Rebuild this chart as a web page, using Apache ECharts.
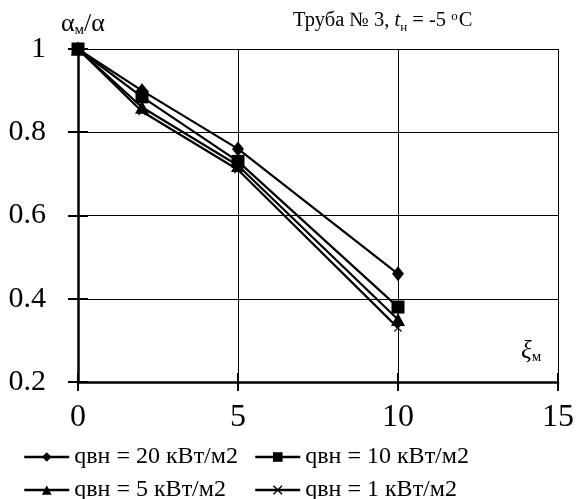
<!DOCTYPE html>
<html><head><meta charset="utf-8">
<script src="https://cdn.jsdelivr.net/npm/echarts@6/dist/echarts.min.js"></script>
<style>html,body{margin:0;padding:0;background:#fff}#c{width:577px;height:499px}</style>
</head><body><div id="c"></div>
<script>
const seriesNames = ['qвн = 20 кВт/м2', 'qвн = 10 кВт/м2', 'qвн = 5 кВт/м2', 'qвн = 1 кВт/м2'];
const xValues = [0, 2, 5, 10];
const q20 = [1, 0.90, 0.76, 0.46];
const q10 = [1, 0.885, 0.73, 0.38];
const q5 = [1, 0.86, 0.72, 0.35];
const q1 = [1, 0.85, 0.71, 0.33];
const xMin = 0, xMax = 15, xStep = 5;
const yMin = 0.2, yMax = 1, yStep = 0.2;

const FONT = 'Liberation Serif';
const crossPath = 'path://M0,1L1,0L5,4L9,0L10,1L6,5L10,9L9,10L5,6L1,10L0,9L4,5Z';
const symbols = ['diamond', 'rect', 'triangle', crossPath];
const symbolSizes = [[12, 15], 13, [14, 13], 8];
const valuesList = [q20, q10, q5, q1];

const chart = echarts.init(document.getElementById('c'), null, {renderer: 'canvas'});

const series = seriesNames.map((name, i) => ({
  name: name,
  type: 'line',
  xAxisIndex: 0, yAxisIndex: 0,
  data: xValues.map((x, j) => [x, valuesList[i][j]]),
  symbol: symbols[i],
  symbolSize: symbolSizes[i],
  showAllSymbol: true,
  lineStyle: {color: '#000', width: 2.2},
  itemStyle: {color: '#000', borderColor: '#000', borderWidth: 0},
  emphasis: {disabled: true},
  animation: false,
  z: 3 + (3 - i)
}));

const legendPos = [[23, 445], [254, 445], [23, 478], [254, 478]];
const legends = seriesNames.map((name, i) => ({
  data: [name],
  left: legendPos[i][0], top: legendPos[i][1],
  padding: 0,
  itemWidth: 45, itemHeight: 12,
  itemGap: 0,
  selectedMode: false,
  lineStyle: {width: 2.5, color: '#000'},
  textStyle: {fontFamily: FONT, fontSize: 24, color: '#000'}
}));

const option = {
  backgroundColor: '#fff',
  animation: false,
  grid: {left: 78, right: 16, top: 49, bottom: 117, containLabel: false},
  legend: legends,
  xAxis: [{
    type: 'value', min: xMin, max: xMax, interval: xStep, position: 'bottom',
    axisLine: {show: true, onZero: false, lineStyle: {color: '#000', width: 2.5}},
    axisTick: {show: true, inside: false, length: 9, lineStyle: {color: '#000', width: 2}},
    axisLabel: {fontFamily: FONT, fontSize: 32, color: '#000', margin: 20},
    splitLine: {show: true, lineStyle: {color: '#000', width: 1}}
  }, {
    type: 'value', min: xMin, max: xMax, interval: xStep, position: 'bottom',
    axisLine: {show: false},
    axisTick: {show: true, inside: true, length: 9, lineStyle: {color: '#000', width: 2}},
    axisLabel: {show: false},
    splitLine: {show: false}
  }],
  yAxis: [{
    type: 'value', min: yMin, max: yMax, interval: yStep, position: 'left',
    axisLine: {show: true, onZero: false, lineStyle: {color: '#000', width: 2.5}},
    axisTick: {show: true, inside: false, length: 10, lineStyle: {color: '#000', width: 2}},
    axisLabel: {fontFamily: FONT, fontSize: 30, color: '#000', margin: 32},
    splitLine: {show: true, lineStyle: {color: '#000', width: 1}},
    name: '{a|α}{s|м}{a|/α}',
    nameLocation: 'end',
    nameGap: 12,
    nameTextStyle: {
      align: 'left', padding: [0, 0, 0, -17],
      rich: {
        a: {fontFamily: FONT, fontSize: 26, color: '#000', lineHeight: 26},
        s: {fontFamily: FONT, fontSize: 15, color: '#000', lineHeight: 15, padding: [13, 0, 0, 0]}
      }
    }
  }, {
    type: 'value', min: yMin, max: yMax, interval: yStep, position: 'left',
    axisLine: {show: false},
    axisTick: {show: true, inside: true, length: 10, lineStyle: {color: '#000', width: 2}},
    axisLabel: {show: false},
    splitLine: {show: false}
  }],
  graphic: [{
    type: 'text', left: 293, top: 8, silent: true,
    style: {
      text: '{a|Труба № 3, }{i|t}{sub|н}{a| = -5 }{sup|о}{a|C}',
      rich: {
        a: {fontFamily: FONT, fontSize: 20.5, fill: '#000', lineHeight: 26},
        i: {fontFamily: FONT, fontSize: 20.5, fontStyle: 'italic', fill: '#000', lineHeight: 26},
        sub: {fontFamily: FONT, fontSize: 13, fill: '#000', lineHeight: 13, padding: [13, 0, 0, 0]},
        sup: {fontFamily: FONT, fontSize: 13, fill: '#000', lineHeight: 13, padding: [0, 1, 8, 0]}
      }
    }
  }, {
    type: 'text', left: 521, top: 337, silent: true,
    style: {
      text: '{x|ξ}{s|м}',
      rich: {
        x: {fontFamily: FONT, fontSize: 25, fontStyle: 'italic', fill: '#000', lineHeight: 26},
        s: {fontFamily: FONT, fontSize: 15, fill: '#000', lineHeight: 15, padding: [13, 0, 0, 0]}
      }
    }
  }],
  series: series
};
chart.setOption(option);
</script>
</body></html>
